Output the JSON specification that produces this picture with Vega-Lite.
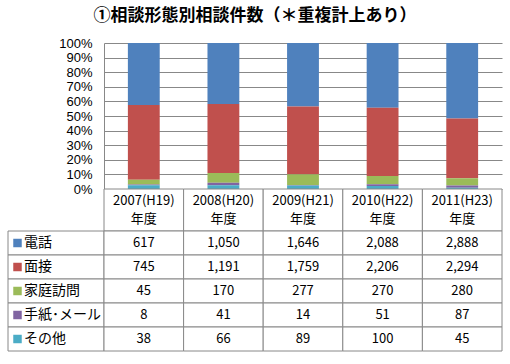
{
  "$schema": "https://vega.github.io/schema/vega-lite/v6.json",
  "background": "white",
  "padding": {"left": 7, "top": 7, "right": 9, "bottom": 8},
  "title": {"text": "①相談形態別相談件数（＊重複計上あり）", "font": "Noto Sans CJK JP", "fontSize": 17, "fontWeight": "bold", "color": "#000", "anchor": "middle", "offset": 12},
  "config": {"font": "Noto Sans CJK JP", "view": {"stroke": null}},
  "datasets": {
    "counts": [
      {"year": "2007(H19)\n年度", "series": "電話", "value": 617},
      {"year": "2007(H19)\n年度", "series": "面接", "value": 745},
      {"year": "2007(H19)\n年度", "series": "家庭訪問", "value": 45},
      {"year": "2007(H19)\n年度", "series": "手紙･メール", "value": 8},
      {"year": "2007(H19)\n年度", "series": "その他", "value": 38},
      {"year": "2008(H20)\n年度", "series": "電話", "value": 1050},
      {"year": "2008(H20)\n年度", "series": "面接", "value": 1191},
      {"year": "2008(H20)\n年度", "series": "家庭訪問", "value": 170},
      {"year": "2008(H20)\n年度", "series": "手紙･メール", "value": 41},
      {"year": "2008(H20)\n年度", "series": "その他", "value": 66},
      {"year": "2009(H21)\n年度", "series": "電話", "value": 1646},
      {"year": "2009(H21)\n年度", "series": "面接", "value": 1759},
      {"year": "2009(H21)\n年度", "series": "家庭訪問", "value": 277},
      {"year": "2009(H21)\n年度", "series": "手紙･メール", "value": 14},
      {"year": "2009(H21)\n年度", "series": "その他", "value": 89},
      {"year": "2010(H22)\n年度", "series": "電話", "value": 2088},
      {"year": "2010(H22)\n年度", "series": "面接", "value": 2206},
      {"year": "2010(H22)\n年度", "series": "家庭訪問", "value": 270},
      {"year": "2010(H22)\n年度", "series": "手紙･メール", "value": 51},
      {"year": "2010(H22)\n年度", "series": "その他", "value": 100},
      {"year": "2011(H23)\n年度", "series": "電話", "value": 2888},
      {"year": "2011(H23)\n年度", "series": "面接", "value": 2294},
      {"year": "2011(H23)\n年度", "series": "家庭訪問", "value": 280},
      {"year": "2011(H23)\n年度", "series": "手紙･メール", "value": 87},
      {"year": "2011(H23)\n年度", "series": "その他", "value": 45}
    ],
    "years": [
      {"year": "2007(H19)\n年度"},
      {"year": "2008(H20)\n年度"},
      {"year": "2009(H21)\n年度"},
      {"year": "2010(H22)\n年度"},
      {"year": "2011(H23)\n年度"}
    ],
    "series": [
      {"series": "電話"},
      {"series": "面接"},
      {"series": "家庭訪問"},
      {"series": "手紙･メール"},
      {"series": "その他"}
    ]
  },
  "columns": 2,
  "spacing": 0,
  "bounds": "flush",
  "align": "each",
  "concat": [
    {
      "width": 96, "height": 146,
      "data": {"values": []},
      "mark": "point",
      "encoding": {}
    },
    {
      "width": 398, "height": 146,
      "data": {"name": "counts"},
      "transform": [{"calculate": "indexof(['その他', '手紙･メール', '家庭訪問', '面接', '電話'], datum.series)", "as": "stackOrder"}],
      "mark": {"type": "bar"},
      "encoding": {
        "x": {"field": "year", "type": "nominal", "sort": null, "scale": {"paddingInner": 0.6, "paddingOuter": 0.3}, "axis": null},
        "y": {"field": "value", "type": "quantitative", "stack": "normalize", "scale": {"domain": [0, 1]},
              "axis": {"title": null, "format": "%", "values": [0, 0.1, 0.2, 0.3, 0.4, 0.5, 0.6, 0.7, 0.8, 0.9, 1], "grid": true, "gridColor": "#888", "gridOpacity": 1, "domainColor": "#888", "ticks": false, "labelPadding": 12, "labelFontSize": 13, "labelColor": "#000", "labelFont": "Liberation Sans"}},
        "color": {"field": "series", "type": "nominal",
                  "scale": {"domain": ["電話", "面接", "家庭訪問", "手紙･メール", "その他"], "range": ["#4F81BD", "#C0504D", "#9BBB59", "#8064A2", "#4BACC6"]}, "legend": null},
        "order": {"field": "stackOrder", "type": "quantitative", "sort": "ascending"}
      }
    },
    {
      "width": 96, "height": 42,
      "data": {"values": []},
      "mark": "point",
      "encoding": {}
    },
    {
      "width": 398, "height": 42,
      "data": {"name": "years"},
      "layer": [
        {"mark": {"type": "rect", "fill": "white", "stroke": "#888", "strokeWidth": 1},
         "encoding": {"x": {"field": "year", "type": "nominal", "sort": null, "scale": {"paddingInner": 0, "paddingOuter": 0}, "axis": null}}},
        {"mark": {"type": "text", "fontSize": 13, "lineBreak": "\n", "lineHeight": 18, "color": "#000", "baseline": "middle", "dy": -9},
         "encoding": {"x": {"field": "year", "type": "nominal", "sort": null, "axis": null}, "text": {"field": "year"}}}
      ]
    },
    {
      "width": 96, "height": 120,
      "data": {"name": "series"},
      "layer": [
        {"mark": {"type": "rect", "fill": "white", "stroke": "#888", "strokeWidth": 1},
         "encoding": {"y": {"field": "series", "type": "nominal", "sort": ["電話", "面接", "家庭訪問", "手紙･メール", "その他"], "scale": {"paddingInner": 0, "paddingOuter": 0}, "axis": null}}},
        {"mark": {"type": "point", "shape": "square", "filled": true, "size": 72, "opacity": 1, "x": 9.5},
         "encoding": {"y": {"field": "series", "type": "nominal", "sort": ["電話", "面接", "家庭訪問", "手紙･メール", "その他"], "axis": null},
                      "color": {"field": "series", "type": "nominal", "scale": {"domain": ["電話", "面接", "家庭訪問", "手紙･メール", "その他"], "range": ["#4F81BD", "#C0504D", "#9BBB59", "#8064A2", "#4BACC6"]}, "legend": null}}},
        {"mark": {"type": "text", "fontSize": 14, "align": "left", "baseline": "middle", "x": 16, "color": "#000"},
         "encoding": {"y": {"field": "series", "type": "nominal", "sort": ["電話", "面接", "家庭訪問", "手紙･メール", "その他"], "axis": null}, "text": {"field": "series"}}}
      ]
    },
    {
      "width": 398, "height": 120,
      "data": {"name": "counts"},
      "layer": [
        {"mark": {"type": "rect", "fill": "white", "stroke": "#888", "strokeWidth": 1},
         "encoding": {
           "x": {"field": "year", "type": "nominal", "sort": null, "scale": {"paddingInner": 0, "paddingOuter": 0}, "axis": null},
           "y": {"field": "series", "type": "nominal", "sort": ["電話", "面接", "家庭訪問", "手紙･メール", "その他"], "scale": {"paddingInner": 0, "paddingOuter": 0}, "axis": null}}},
        {"mark": {"type": "text", "fontSize": 13, "baseline": "middle", "color": "#000"},
         "encoding": {
           "x": {"field": "year", "type": "nominal", "sort": null, "axis": null},
           "y": {"field": "series", "type": "nominal", "sort": ["電話", "面接", "家庭訪問", "手紙･メール", "その他"], "axis": null},
           "text": {"field": "value", "type": "quantitative", "format": ","}}}
      ]
    }
  ]
}
